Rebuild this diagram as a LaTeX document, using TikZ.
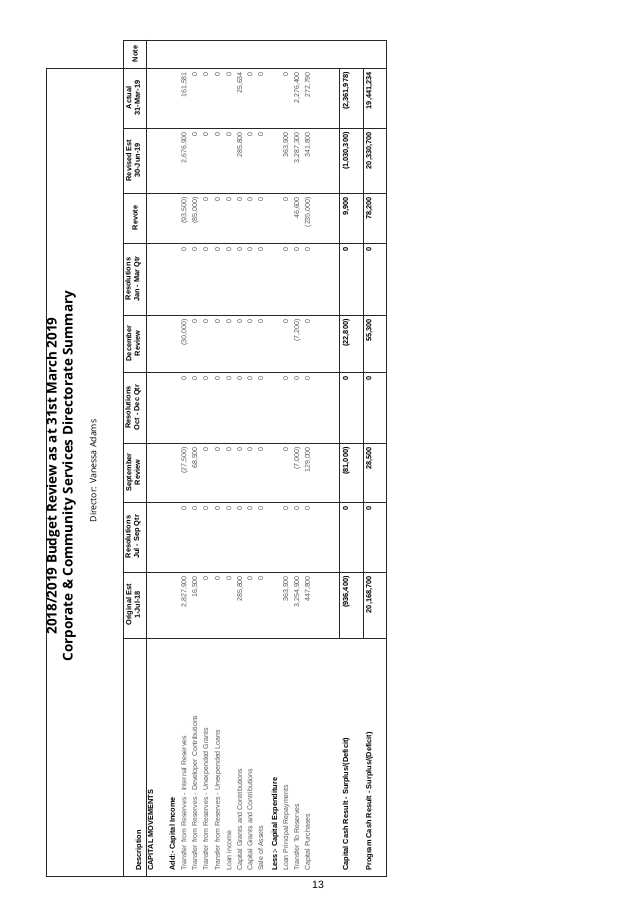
\documentclass[tikz,border=0pt]{standalone}
\usepackage{fontspec}
\setmainfont{Liberation Sans}
\newfontfamily\titlefont{Open Sans}
\definecolor{valgray}{RGB}{85,85,85}
\def\rowx{{183.3,194,205,216.7,228.3,239,249.3,260,285,296,306.7,317.3}}
\tikzset{
  grid/.style={line width=0.5pt, black!85},
  val/.style={rotate=90, inner sep=0pt, font=\fontsize{6}{7}\selectfont, text=valgray},
  tot/.style={rotate=90, inner sep=0pt, anchor=mid east, font=\fontsize{6.3}{7}\selectfont\bfseries},
  hd/.style={rotate=90, inner sep=0pt, align=center, font=\fontsize{6.3}{7.4}\selectfont\bfseries},
  lbl/.style={rotate=90, inner sep=0pt, anchor=mid west, font=\fontsize{6}{7}\selectfont, text=valgray},
  lblb/.style={lbl, text=black, font=\fontsize{6.3}{7}\selectfont\bfseries}
}
% one column of values, right aligned to the column top
\newcommand\valcol[3]{%
  \foreach \v [count=\i] in {#3}{%
    \pgfmathsetmacro\xx{\rowx[\i-1]}
    \node[val, anchor=mid east] (#1-\i) at (\xx,#2+4) {\v};}}

\begin{document}
\begin{tikzpicture}[x=0.03cm, y=-0.03cm]
\useasboundingbox (0,0) rectangle (637,902);

% frame and grid
\draw[grid] (46,68) -- (46,876) -- (386,876) -- (386,40) -- (123,40) -- (123,876);
\draw[grid] (46,68) -- (386,68);
\draw[grid] (146,40) -- (146,876);
\foreach \y in {128,193,243,315,372,443,502,572,638}
  \draw[grid] (123,\y) -- (386,\y);
\draw[grid] (339,68) -- (339,638);
\draw[grid] (363,68) -- (363,638);

% titles
\node[rotate=90, font=\titlefont\fontsize{11.5}{13}\selectfont\bfseries] (title) at (53,476) {2018/2019 Budget Review as at 31st March 2019};
\node[rotate=90, font=\titlefont\fontsize{11.5}{13}\selectfont\bfseries] (subtitle) at (69,476) {Corporate \& Community Services Directorate Summary};
\node[rotate=90, font=\titlefont\fontsize{7.5}{9}\selectfont] (director) at (93,471) {Director: Vanessa Adams};

% column heads
\node[hd, anchor=mid west] (hdesc) at (138,871) {Description};
\node[hd] (horig) at (133,605) {Original Est\\1-Jul-18};
\node[hd] (hresjul) at (133,537) {Resolutions\\Jul - Sep Qtr};
\node[hd] (hsep) at (133,472.5) {September\\Review};
\node[hd] (hresoct) at (133,407.5) {Resolutions\\Oct - Dec Qtr};
\node[hd] (hdec) at (133,343.5) {December\\Review};
\node[hd] (hresjan) at (133,279) {Resolutions\\Jan - Mar Qtr};
\node[hd] (hrevote) at (135,218) {Revote};
\node[hd] (hrev) at (133,160.5) {Revised Est\\30-Jun-19};
\node[hd] (hact) at (133,98) {Actual\\31-Mar-19};
\node[hd] (hnote) at (135,54) {Note};

% row labels
\node[lblb] (lcap) at (150,871) {CAPITAL MOVEMENTS};
\node[lblb] (ladd) at (171.7,871) {Add:- Capital Income};
\node[lbl] (l1) at (183.3,871) {Transfer from Reserves - Internal Reserves};
\node[lbl] (l2) at (194,871) {Transfer from Reserves - Developer Contributions};
\node[lbl] (l3) at (205,871) {Transfer from Reserves - Unexpended Grants};
\node[lbl] (l4) at (216.7,871) {Transfer from Reserves - Unexpended Loans};
\node[lbl] (l5) at (228.3,871) {Loan income};
\node[lbl] (l6) at (239,871) {Capital Grants and Contributions};
\node[lbl] (l7) at (249.3,871) {Capital Grants and Contributions};
\node[lbl] (l8) at (260,871) {Sale of Assets};
\node[lblb] (lless) at (274,871) {Less:- Capital Expenditure};
\node[lbl] (l9) at (285,871) {Loan Principal Repayments};
\node[lbl] (l10) at (296,871) {Transfer To Reserves};
\node[lbl] (l11) at (306.7,871) {Capital Purchases};
\node[lblb] (lcash) at (345,871) {Capital Cash Result - Surplus/(Deficit)};
\node[lblb] (lprog) at (368.3,871) {Program Cash Result - Surplus/(Deficit)};

% values
\valcol{orig}{572}{{2,827,900},{16,500},0,0,0,{285,800},0,0,{363,900},{3,254,900},{447,800}}
\valcol{resjul}{502}{0,0,0,0,0,0,0,0,0,0,0}
\valcol{sep}{443}{{(27,500)},{68,500},0,0,0,0,0,0,0,{(7,000)},{129,000}}
\valcol{resoct}{372}{0,0,0,0,0,0,0,0,0,0,0}
\valcol{dec}{315}{{(30,000)},0,0,0,0,0,0,0,0,{(7,200)},0}
\valcol{resjan}{243}{0,0,0,0,0,0,0,0,0,0,0}
\valcol{revote}{193}{{(93,500)},{(85,000)},0,0,0,0,0,0,0,{46,600},{(235,000)}}
\valcol{rev}{128}{{2,676,900},0,0,0,0,{285,800},0,0,{363,900},{3,287,300},{341,800}}
\valcol{act}{68}{{161,581},0,0,0,0,{25,634},0,0,0,{2,276,400},{272,790}}

% totals
\foreach \nm/\top/\c/\p in {orig/572/{(936,400)}/{20,168,700}, resjul/502/0/0,
    sep/443/{(81,000)}/{28,500}, resoct/372/0/0, dec/315/{(22,800)}/{55,300},
    resjan/243/0/0, revote/193/{9,900}/{78,200}, rev/128/{(1,030,300)}/{20,330,700},
    act/68/{(2,361,978)}/{19,441,234}}{
  \node[tot] (\nm-cash) at (345,\top+4) {\c};
  \node[tot] (\nm-prog) at (368.3,\top+4) {\p};
}

% page number
\node[font=\fontsize{9}{10}\selectfont] (page) at (318,885) {13};
\end{tikzpicture}
\end{document}
